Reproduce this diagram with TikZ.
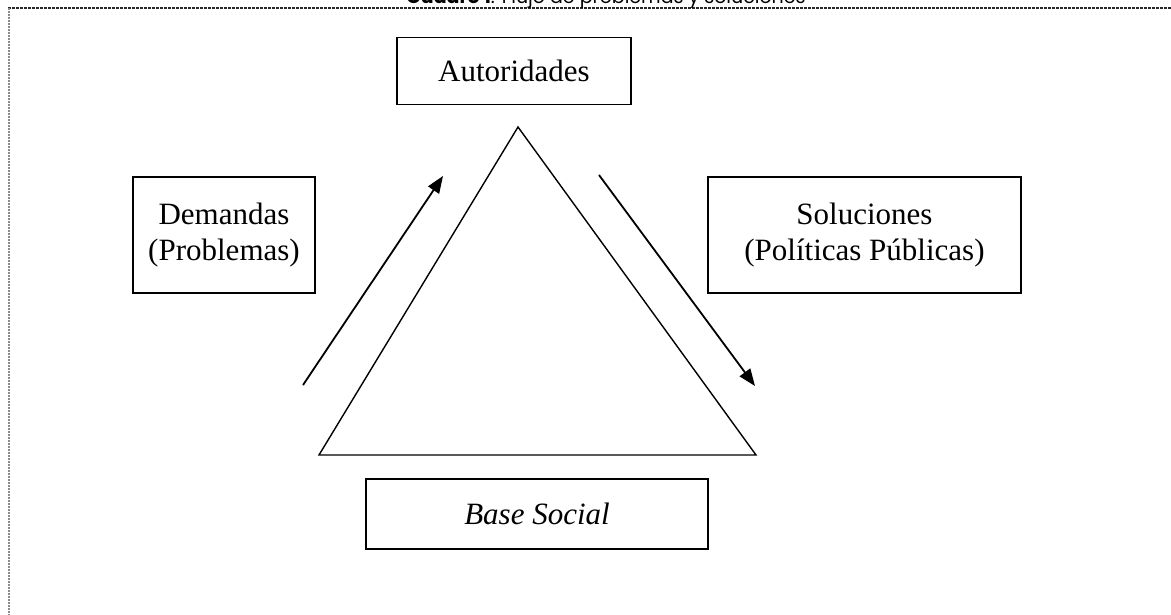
\documentclass[tikz,border=0pt]{standalone}
\usepackage{fontspec}
\setmainfont{Liberation Serif}
\newfontfamily\titlefont{Poppins}
\usetikzlibrary{arrows.meta}
\begin{document}
\begin{tikzpicture}[x=1pt,y=-1pt,
  box/.style={draw=black,line width=1.8pt,inner sep=0pt},
  lbl/.style={font=\fontsize{31}{36}\selectfont,align=center},
  flow/.style={line width=1.8pt,-{Triangle[length=17pt,width=13pt]}},
  tri/.style={line width=1.4pt}]
\clip (0,0) rectangle (1171,615);
\fill[white] (0,0) rectangle (1171,615);
% frame
\draw[line width=1.6pt,black!85,dash pattern=on 3pt off 1pt] (8,8) -- (1171,8);
\draw[line width=1.6pt,black!45,dash pattern=on 2pt off 1pt] (9,8) -- (9,615);
% title
\node[anchor=base,inner sep=0pt,font=\titlefont\fontsize{19}{22}\selectfont] (title) at (606,4) {\textbf{Cuadro 1}: Flujo de problemas y soluciones};
% boxes
\node[box,minimum width=234pt,minimum height=67pt] (aut) at (514,71) {};
\node[lbl] at (aut.center) {Autoridades};
\node[box,minimum width=182pt,minimum height=116pt] (dem) at (224,235) {};
\node[lbl] at (dem.center) {Demandas\\(Problemas)};
\node[box,minimum width=313pt,minimum height=116pt] (sol) at (864.5,235) {};
\node[lbl] at (sol.center) {Soluciones\\(Políticas Públicas)};
\node[box,minimum width=342pt,minimum height=70pt] (base) at (537,514) {};
\node[lbl,font=\fontsize{31}{36}\selectfont\itshape] at (base.center) {Base Social};
% triangle
\coordinate (apex) at (518,127);
\coordinate (bl) at (319,455);
\coordinate (br) at (756,455);
\draw[tri,line join=miter] (apex) -- (bl) -- (br) -- cycle;
% arrows
\coordinate (a1s) at (303,385);
\coordinate (a1e) at (443,176);
\coordinate (a2s) at (599,175);
\coordinate (a2e) at (755,386);
\draw[flow] (a1s) -- (a1e);
\draw[flow] (a2s) -- (a2e);
\end{tikzpicture}
\end{document}
